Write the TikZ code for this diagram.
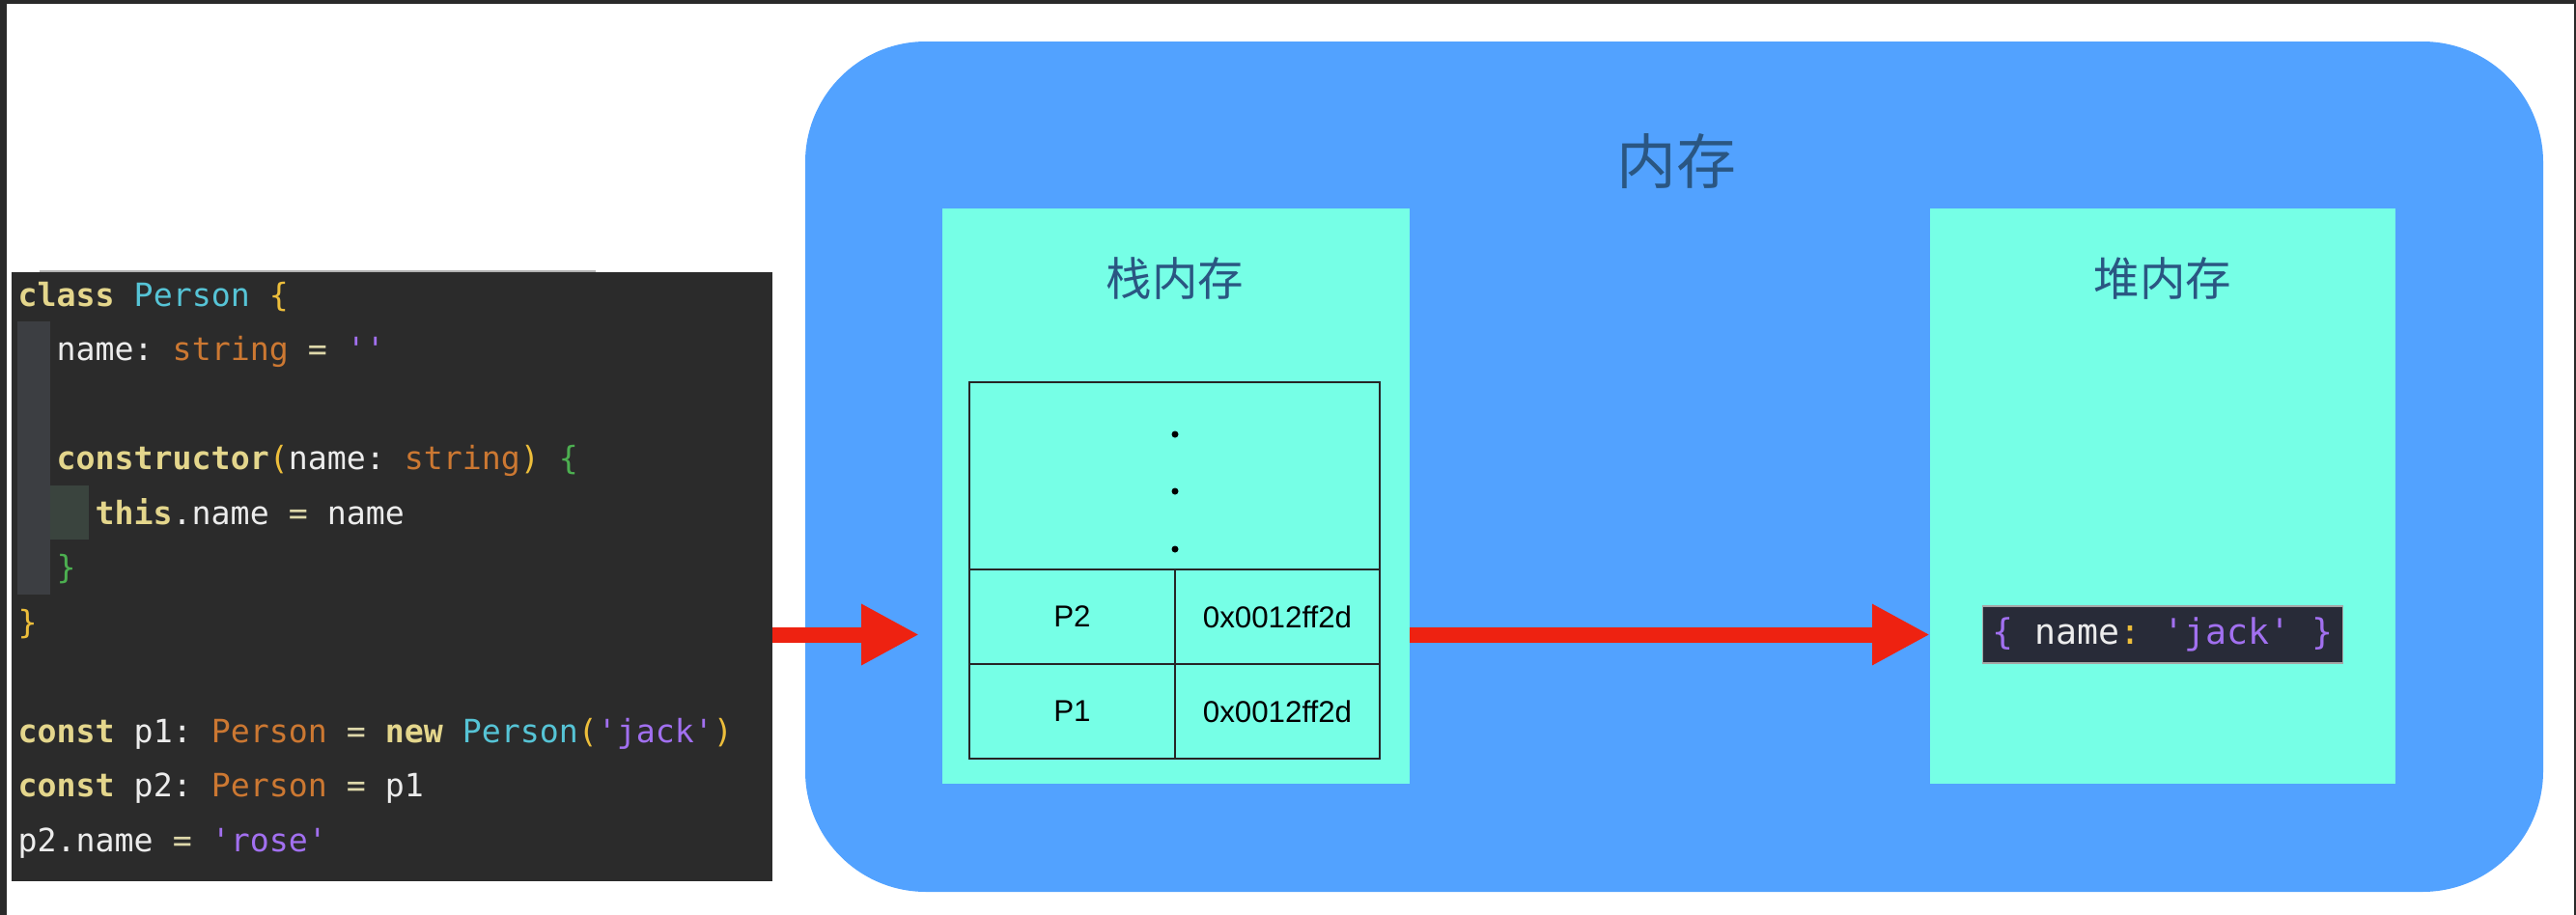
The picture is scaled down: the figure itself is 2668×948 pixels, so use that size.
\documentclass[tikz,border=0pt]{standalone}
\usepackage{fontspec}
\setmainfont{Liberation Sans}
\setmonofont{DejaVu Sans Mono}
\newfontfamily\cjk{Noto Sans CJK SC}
\usetikzlibrary{arrows.meta,positioning}
\definecolor{framegray}{RGB}{42,42,42}
\definecolor{codebg}{RGB}{43,43,43}
\definecolor{codefg}{RGB}{236,236,236}
\definecolor{guidebar}{RGB}{60,62,66}
\definecolor{guidebartwo}{RGB}{58,68,62}
\definecolor{kwyellow}{RGB}{228,214,140}
\definecolor{clscyan}{RGB}{86,196,214}
\definecolor{typorange}{RGB}{204,120,50}
\definecolor{bracegold}{RGB}{237,190,59}
\definecolor{bracegreen}{RGB}{76,175,80}
\definecolor{strpurple}{RGB}{162,112,240}
\definecolor{eqbeige}{RGB}{222,216,170}
\definecolor{memblue}{RGB}{82,162,255}
\definecolor{memteal}{RGB}{118,255,230}
\definecolor{labelblue}{RGB}{42,86,130}
\definecolor{arrowred}{RGB}{238,34,17}
\definecolor{objbg}{RGB}{40,43,56}
\newcommand{\kw}[1]{\textbf{\textcolor{kwyellow}{#1}}}
\newcommand{\cls}[1]{\textcolor{clscyan}{#1}}
\newcommand{\typ}[1]{\textcolor{typorange}{#1}}
\newcommand{\brc}[1]{\textcolor{bracegold}{#1}}
\newcommand{\grn}[1]{\textcolor{bracegreen}{#1}}
\newcommand{\str}[1]{\textcolor{strpurple}{#1}}
\newcommand{\eqs}{\textcolor{eqbeige}{=}}

\begin{document}
\begin{tikzpicture}[x=0.01cm,y=-0.01cm,>=Stealth,
  codeline/.style={anchor=base west,inner sep=0,text=codefg,
    font=\ttfamily\fontsize{9.45}{11}\selectfont},
  membox/.style={fill=memteal,inner sep=0,outer sep=0,minimum width=4.84cm,minimum height=5.96cm},
  boxlabel/.style={text=labelblue,font=\cjk\fontsize{13.5}{16}\selectfont},
  cell/.style={draw=black!85,line width=0.7pt,inner sep=0,outer sep=0,
    minimum height=0.98cm,font=\fontsize{8.9}{10}\selectfont},
  memarrow/.style={draw=arrowred,line width=4.55pt,-{Triangle[length=17pt,width=16.8pt]}}]
  \useasboundingbox (0,0) rectangle (2668,948);
  % screenshot frame
  \fill[framegray] (0,0) rectangle (2668,948);
  \fill[white] (7,4) rectangle (2666,948);

  % code panel
  \node[fill=codebg,inner sep=0,outer sep=0,minimum width=7.88cm,minimum height=6.31cm]
    (code) at (406,597.5) {};
  \draw[gray!60,line width=0.4pt] (41,281) -- (617,281);
  \fill[guidebar] (18,333) rectangle (52,616);
  \fill[guidebartwo] (52,503) rectangle (92,559);
  \node[codeline] (l1) at (18,317) {\kw{class} \cls{Person} \brc{\{}};
  \node[codeline] (l2) at (58,373.5) {name: \typ{string} \eqs{} \str{''}};
  \node[codeline] (l4) at (58,486.5) {\kw{constructor}\brc{(}name: \typ{string}\brc{)} \grn{\{}};
  \node[codeline] (l5) at (98,543) {\kw{this}.name \eqs{} name};
  \node[codeline] (l6) at (58,599.5) {\grn{\}}};
  \node[codeline] (l7) at (18,656) {\brc{\}}};
  \node[codeline] (l9) at (18,769) {\kw{const} p1: \typ{Person} \eqs{} \kw{new} \cls{Person}\brc{(}\str{'jack'}\brc{)}};
  \node[codeline] (l10) at (18,825.5) {\kw{const} p2: \typ{Person} \eqs{} p1};
  \node[codeline] (l11) at (18,882) {p2.name \eqs{} \str{'rose'}};

  % memory
  \fill[memblue,rounded corners=1.25cm] (834,43) rectangle (2634,924);
  \node[text=labelblue,font=\cjk\fontsize{17.6}{20}\selectfont] (mem) at (1736,167) {内存};

  % stack
  \node[membox] (stack) at (1218,514) {};
  \node[boxlabel] (stacklabel) at (1217,289) {栈内存};
  \node[cell,minimum width=4.25cm,minimum height=1.94cm] (dots) at (1216.5,493) {};
  \foreach \y in {450,509,569}
    \fill[black] (1217,\y) circle (3.5);
  \node[cell,minimum width=2.13cm] (p2name) at (1110.5,639) {P2};
  \node[cell,minimum width=2.12cm] (p2addr) at (1323,639) {0x0012ff2d};
  \node[cell,minimum width=2.13cm] (p1name) at (1110.5,737) {P1};
  \node[cell,minimum width=2.12cm] (p1addr) at (1323,737) {0x0012ff2d};

  % heap
  \node[membox,minimum width=4.82cm] (heap) at (2240,514) {};
  \node[boxlabel] (heaplabel) at (2240,289) {堆内存};
  \node[fill=objbg,draw=gray!70,line width=0.3pt,inner sep=0,minimum width=3.72cm,minimum height=0.59cm,
    text=codefg,font=\ttfamily\fontsize{10.4}{12}\selectfont]
    (obj) at (2240,657.5) {\str{\{} name\textcolor{bracegold}{:} \str{'jack'} \str{\}}};

  % references
  \coordinate (tip1) at (952,657.5);
  \draw[memarrow] (code.east |- obj) -- (tip1);
  \draw[memarrow] (stack.east |- obj) -- (heap.west |- obj);
\end{tikzpicture}
\end{document}
